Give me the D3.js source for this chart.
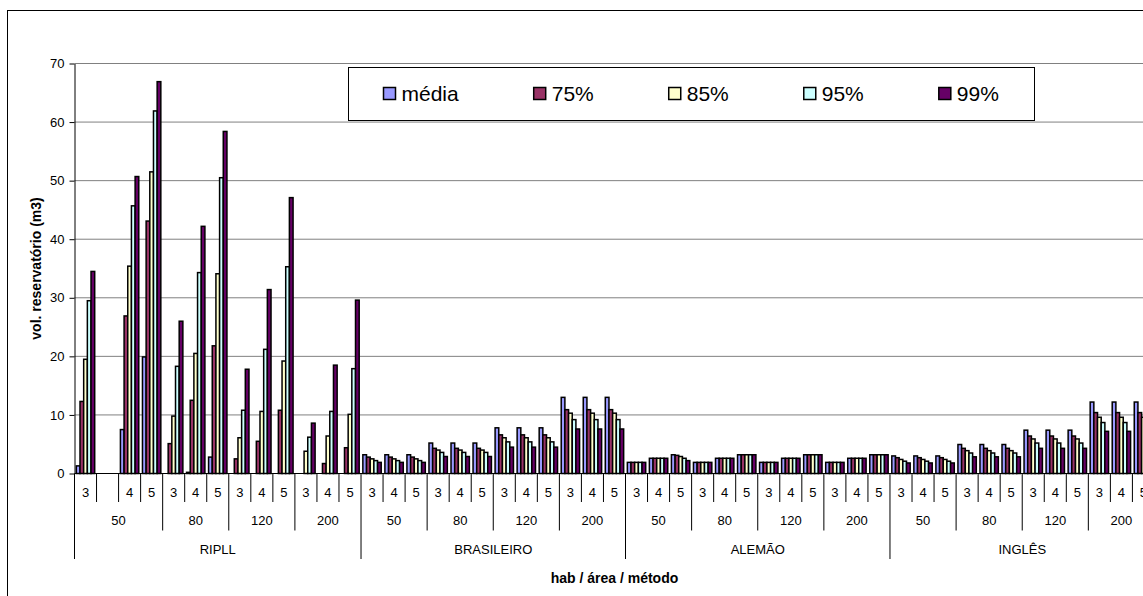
<!DOCTYPE html>
<html>
<head>
<meta charset="utf-8">
<script src="https://cdn.jsdelivr.net/npm/d3@7"></script>
<style>
  body { margin: 0; background: #fff; }
  text { font-family: "Liberation Sans", Arial, sans-serif; }
</style>
</head>
<body>
<div id="chart"></div>
<script>
// category levels
const methods = ["RIPLL", "BRASILEIRO", "ALEMÃO", "INGLÊS"];
const areas = ["50", "80", "120", "200"];
const habs = ["3", "4", "5"];
const ripll50Habs = ["3", "", "4", "5"]; // RIPLL / 50 has an empty slot

const seriesNames = ["média", "75%", "85%", "95%", "99%"];
const seriesColors = ["#9999FF", "#993366", "#FFFFCC", "#CCFFFF", "#660066"];
const yTicks = [0, 10, 20, 30, 40, 50, 60, 70];

// values per category (RIPLL 13, BRASILEIRO 12, ALEMÃO 12, INGLÊS 12)
const media = [
  1.3, null, 7.5, 19.9, 0, 0.2, 2.8, 0, 0, 0, 0, 0, 0,
  3.2, 3.2, 3.2, 5.2, 5.2, 5.2, 7.8, 7.8, 7.8, 13.0, 13.0, 13.0,
  1.9, 2.6, 3.2, 1.9, 2.6, 3.2, 1.9, 2.6, 3.2, 1.9, 2.6, 3.2,
  3.0, 3.0, 3.0, 4.95, 4.95, 4.95, 7.4, 7.4, 7.4, 12.2, 12.2, 12.2
];
const p75 = [
  12.3, null, 26.9, 43.1, 5.1, 12.5, 21.8, 2.5, 5.5, 10.8, 0, 1.7, 4.4,
  2.8, 2.8, 2.8, 4.3, 4.3, 4.3, 6.6, 6.6, 6.6, 10.9, 10.9, 10.9,
  1.9, 2.6, 3.1, 1.9, 2.6, 3.2, 1.9, 2.6, 3.2, 1.9, 2.6, 3.2,
  2.7, 2.7, 2.7, 4.3, 4.3, 4.3, 6.4, 6.4, 6.4, 10.4, 10.4, 10.4
];
const p85 = [
  19.5, null, 35.4, 51.5, 9.8, 20.5, 34.1, 6.1, 10.6, 19.2, 3.8, 6.4, 10.1,
  2.5, 2.5, 2.5, 4.0, 4.0, 4.0, 6.1, 6.1, 6.1, 10.3, 10.3, 10.3,
  1.9, 2.6, 2.9, 1.9, 2.6, 3.2, 1.9, 2.6, 3.2, 1.9, 2.6, 3.2,
  2.4, 2.4, 2.4, 3.9, 3.9, 3.9, 5.9, 5.9, 5.9, 9.6, 9.6, 9.6
];
const p95 = [
  29.5, null, 45.7, 61.9, 18.3, 34.3, 50.5, 10.8, 21.2, 35.3, 6.2, 10.6, 17.9,
  2.2, 2.2, 2.2, 3.6, 3.6, 3.6, 5.4, 5.4, 5.4, 9.2, 9.2, 9.2,
  1.9, 2.6, 2.6, 1.9, 2.6, 3.2, 1.9, 2.6, 3.2, 1.9, 2.6, 3.2,
  2.1, 2.1, 2.1, 3.5, 3.5, 3.5, 5.2, 5.2, 5.2, 8.7, 8.7, 8.7
];
const p99 = [
  34.5, null, 50.7, 66.9, 26.0, 42.2, 58.4, 17.8, 31.4, 47.1, 8.6, 18.5, 29.6,
  1.9, 1.9, 1.9, 2.9, 2.9, 2.9, 4.5, 4.5, 4.5, 7.6, 7.6, 7.6,
  1.9, 2.6, 2.2, 1.9, 2.6, 3.2, 1.9, 2.6, 3.2, 1.9, 2.6, 3.2,
  1.8, 1.8, 1.8, 2.85, 2.85, 2.85, 4.3, 4.3, 4.3, 7.2, 7.2, 7.2
];
const seriesValues = [media, p75, p85, p95, p99];

const width = 1143,
  height = 596;

// build the category list
const categories = [];
methods.forEach((m) => {
  areas.forEach((a) => {
    const hs = m === "RIPLL" && a === "50" ? ripll50Habs : habs;
    hs.forEach((h, k) => {
      categories.push({ id: m + "|" + a + "|" + k, method: m, area: a, hab: h });
    });
  });
});

const plotLeft = 74.5,
  plotTop = 63.5,
  plotBottom = 473.5,
  catStep = 22.04;
const plotRight = plotLeft + categories.length * catStep;

const svg = d3
  .select("#chart")
  .append("svg")
  .attr("width", width)
  .attr("height", height);

// chart area border (runs off the right / bottom of the picture)
svg
  .append("rect")
  .attr("x", 7.5)
  .attr("y", 10.5)
  .attr("width", 1300)
  .attr("height", 700)
  .attr("fill", "#fff")
  .attr("stroke", "#000");

const x0 = d3
  .scaleBand()
  .domain(categories.map((d) => d.id))
  .range([plotLeft, plotRight]);

const x1 = d3
  .scaleBand()
  .domain(seriesNames)
  .range([0, x0.bandwidth()])
  .paddingOuter(0.5);

const y = d3.scaleLinear().domain([0, 70]).range([plotBottom, plotTop]);

//gridlines
svg
  .append("g")
  .selectAll("line")
  .data(yTicks.filter((t) => t > 0))
  .join("line")
  .attr("x1", plotLeft)
  .attr("x2", plotRight)
  .attr("y1", (d) => y(d))
  .attr("y2", (d) => y(d))
  .attr("stroke", "#808080")
  .attr("stroke-width", 1);

//bars
const barData = [];
categories.forEach((c, i) => {
  seriesNames.forEach((s, j) => {
    const v = seriesValues[j][i];
    if (v) barData.push({ cat: c.id, series: s, color: seriesColors[j], value: v });
  });
});

svg
  .append("g")
  .selectAll("rect")
  .data(barData)
  .join("rect")
  .attr("x", (d) => x0(d.cat) + x1(d.series))
  .attr("y", (d) => y(d.value))
  .attr("width", x1.bandwidth())
  .attr("height", (d) => y(0) - y(d.value))
  .attr("fill", (d) => d.color)
  .attr("stroke", "#000")
  .attr("stroke-width", 1.5);

//y axis
const yAxis = svg
  .append("g")
  .attr("transform", `translate(${plotLeft},0)`)
  .call(d3.axisLeft(y).tickValues(yTicks).tickSize(5).tickSizeOuter(0).tickPadding(5));
yAxis.selectAll("text").attr("font-size", 13).attr("fill", "#000").attr("font-family", "Liberation Sans, Arial, sans-serif");
yAxis.selectAll("line, path").attr("stroke", "#000");

//x axis (three levels)
const xAxis = svg.append("g");
const rowH = 28.5;

xAxis
  .append("line")
  .attr("x1", plotLeft)
  .attr("x2", plotRight)
  .attr("y1", plotBottom)
  .attr("y2", plotBottom)
  .attr("stroke", "#000");

// separator depth: 1 = hab, 2 = area, 3 = method
const seps = categories.map((c, i) => {
  const prev = categories[i - 1];
  let depth = 1;
  if (!prev || prev.method !== c.method) depth = 3;
  else if (prev.area !== c.area) depth = 2;
  return { x: x0(c.id), depth: depth };
});
seps.push({ x: plotRight, depth: 3 });

xAxis
  .selectAll(".sep")
  .data(seps)
  .join("line")
  .attr("class", "sep")
  .attr("x1", (d) => d.x)
  .attr("x2", (d) => d.x)
  .attr("y1", plotBottom)
  .attr("y2", (d) => plotBottom + d.depth * rowH)
  .attr("stroke", "#000");

// row 1 labels
xAxis
  .selectAll(".hab")
  .data(categories.filter((c) => c.hab !== ""))
  .join("text")
  .attr("class", "hab")
  .attr("x", (d) => x0(d.id) + x0.bandwidth() / 2)
  .attr("y", plotBottom + rowH * 0.68)
  .attr("dy", "0.35em")
  .attr("text-anchor", "middle")
  .attr("font-size", 13)
  .text((d) => d.hab);

// row 2 + 3 labels, centred over their span
function spans(keyFn) {
  const out = [];
  categories.forEach((c) => {
    const k = keyFn(c);
    const last = out[out.length - 1];
    if (last && last.key === k) last.x2 = x0(c.id) + x0.bandwidth();
    else out.push({ key: k, label: k.split("|").pop(), x1: x0(c.id), x2: x0(c.id) + x0.bandwidth() });
  });
  return out;
}

xAxis
  .selectAll(".area")
  .data(spans((c) => c.method + "|" + c.area))
  .join("text")
  .attr("class", "area")
  .attr("x", (d) => (d.x1 + d.x2) / 2)
  .attr("y", plotBottom + rowH * 1.66)
  .attr("dy", "0.35em")
  .attr("text-anchor", "middle")
  .attr("font-size", 13)
  .text((d) => d.label);

xAxis
  .selectAll(".method")
  .data(spans((c) => c.method))
  .join("text")
  .attr("class", "method")
  .attr("x", (d) => (d.x1 + d.x2) / 2)
  .attr("y", plotBottom + rowH * 2.66)
  .attr("dy", "0.35em")
  .attr("text-anchor", "middle")
  .attr("font-size", 13)
  .text((d) => d.label);

//axis titles
svg
  .append("text")
  .attr("x", (plotLeft + plotRight) / 2)
  .attr("y", 578)
  .attr("dy", "0.35em")
  .attr("text-anchor", "middle")
  .attr("font-size", 14)
  .attr("font-weight", "bold")
  .text("hab / área / método");

svg
  .append("text")
  .attr("transform", `translate(36,${(plotTop + plotBottom) / 2}) rotate(-90)`)
  .attr("dy", "0.35em")
  .attr("text-anchor", "middle")
  .attr("font-size", 14)
  .attr("font-weight", "bold")
  .text("vol. reservatório (m3)");

//legend
const legend = svg.append("g").attr("transform", "translate(348.5,67.5)");
legend
  .append("rect")
  .attr("width", 686)
  .attr("height", 53)
  .attr("fill", "#fff")
  .attr("stroke", "#000");

let lx = 35;
seriesNames.forEach((s, i) => {
  legend
    .append("rect")
    .attr("x", lx)
    .attr("y", 20)
    .attr("width", 12)
    .attr("height", 12)
    .attr("fill", seriesColors[i])
    .attr("stroke", "#000")
    .attr("stroke-width", 1.5);
  const t = legend
    .append("text")
    .attr("x", lx + 18)
    .attr("y", 33)
    .attr("font-size", 21)
    .text(s);
  lx += 18 + t.node().getComputedTextLength() + 75;
});
</script>
</body>
</html>
